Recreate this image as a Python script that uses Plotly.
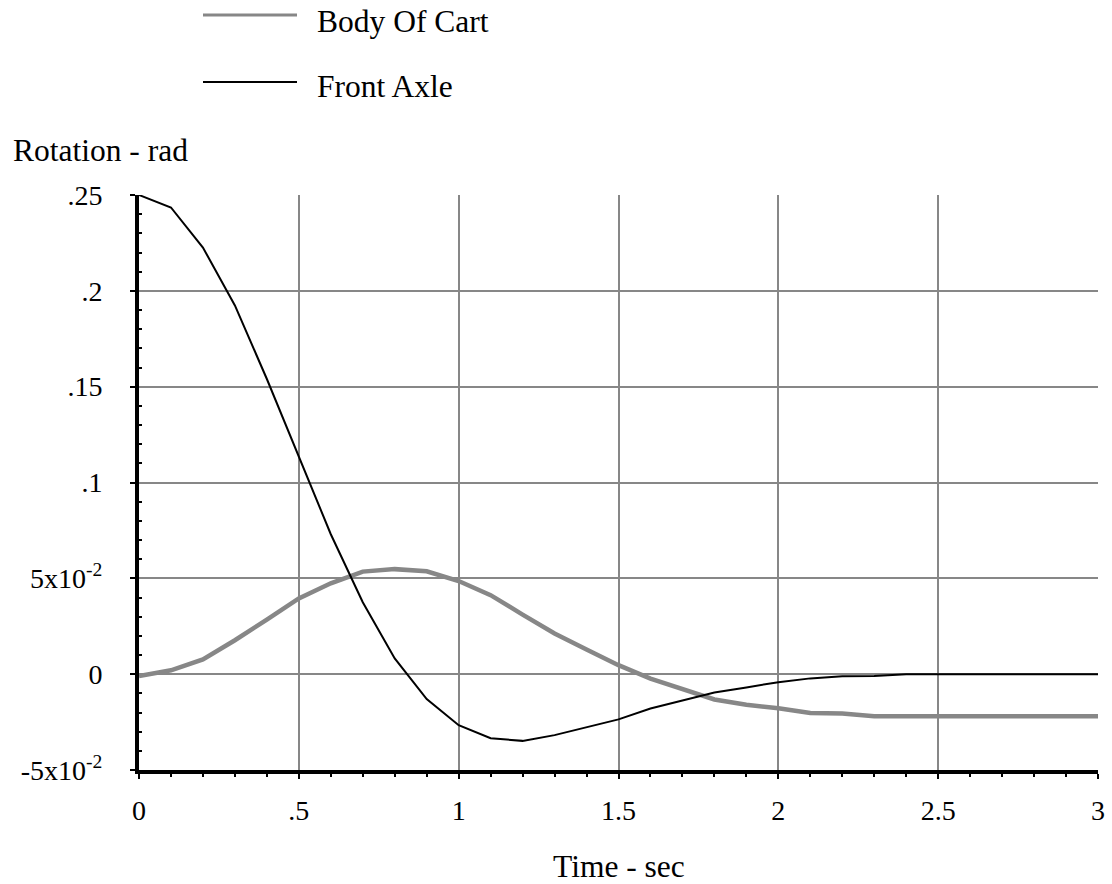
import numpy as np
import plotly.graph_objects as go

# ---- data ----
time_s = [round(0.1 * i, 1) for i in range(31)]
body_of_cart = [-0.001, 0.002, 0.0077, 0.0177, 0.0285, 0.0395, 0.0474, 0.0535, 0.0548, 0.0537,
                0.0486, 0.0412, 0.0311, 0.0212, 0.0129, 0.0047, -0.0023, -0.0078, -0.0132, -0.0160,
                -0.0178, -0.0203, -0.0205, -0.0219, -0.0219, -0.0219, -0.0219, -0.0219, -0.0219,
                -0.0219, -0.0219]
front_axle = [0.25, 0.2435, 0.2226, 0.1924, 0.1540, 0.1130, 0.0730, 0.0375, 0.0082, -0.0130,
              -0.0266, -0.0334, -0.0348, -0.0318, -0.0278, -0.0236, -0.0179, -0.0136, -0.0096,
              -0.0069, -0.0042, -0.0022, -0.0011, -0.0009, 0.0, 0.0, 0.0, 0.0, 0.0, 0.0, 0.0]

x_tickvals = [0, 0.5, 1, 1.5, 2, 2.5, 3]
x_ticktext = ["0", ".5", "1", "1.5", "2", "2.5", "3"]
y_tickvals = [-0.05, 0, 0.05, 0.1, 0.15, 0.2, 0.25]
y_ticktext = ["-5x10<sup>-2</sup>", "0", "5x10<sup>-2</sup>", ".1", ".15", ".2", ".25"]

series_names = ["Body Of Cart", "Front Axle"]
GRAY = "#878787"
FONT = "Liberation Serif, Times New Roman, serif"

fig = go.Figure()
fig.add_trace(go.Scatter(x=time_s, y=body_of_cart, mode="lines", name=series_names[0],
                         line=dict(color=GRAY, width=4.5), cliponaxis=False))
fig.add_trace(go.Scatter(x=time_s, y=front_axle, mode="lines", name=series_names[1],
                         line=dict(color="black", width=2), cliponaxis=False))

x_minor = [v for v in np.round(np.arange(0, 3.0001, 0.1), 2) if v not in x_tickvals]
y_minor = [v for v in np.round(np.arange(-0.05, 0.25001, 0.01), 3) if v not in y_tickvals]

fig.update_xaxes(range=[0, 3], tickmode="array", tickvals=x_tickvals, ticktext=x_ticktext,
                 showgrid=True, gridcolor=GRAY, gridwidth=2, zeroline=False,
                 showline=True, linecolor="black", linewidth=4, mirror=False,
                 ticks="outside", ticklen=5, tickwidth=2, tickcolor="black",
                 ticklabelstandoff=7, automargin=False,
                 minor=dict(tickmode="array", tickvals=x_minor, ticks="outside", ticklen=3,
                            tickwidth=2, tickcolor="black", showgrid=False),
                 tickfont=dict(family=FONT, size=28, color="black"))
fig.update_yaxes(range=[-0.05, 0.25], tickmode="array", tickvals=y_tickvals, ticktext=y_ticktext,
                 showgrid=True, gridcolor=GRAY, gridwidth=2, zeroline=False,
                 showline=True, linecolor="black", linewidth=4, mirror=False,
                 ticks="outside", ticklen=5, tickwidth=2, tickcolor="black",
                 ticklabelstandoff=22, automargin=False,
                 minor=dict(tickmode="array", tickvals=y_minor, ticks="inside", ticklen=3,
                            tickwidth=2, tickcolor="black", showgrid=False),
                 tickfont=dict(family=FONT, size=28, color="black"))

# plot area geometry: left 139, right 1098, top 195, bottom 770 (px)
W, H = 959.0, 575.0
def px_x(p):
    return (p - 139) / W
def px_y(p):
    return (770 - p) / H

shapes = [
    dict(type="line", xref="paper", yref="paper", x0=px_x(203), x1=px_x(297),
         y0=px_y(15), y1=px_y(15), line=dict(color=GRAY, width=3)),
    dict(type="line", xref="paper", yref="paper", x0=px_x(203), x1=px_x(297),
         y0=px_y(82), y1=px_y(82), line=dict(color="black", width=2)),
]
annotations = [
    dict(text=series_names[0], xref="paper", yref="paper", x=px_x(315), y=px_y(21),
         xanchor="left", yanchor="middle", showarrow=False,
         font=dict(family=FONT, size=31.5, color="black")),
    dict(text=series_names[1], xref="paper", yref="paper", x=px_x(315), y=px_y(87),
         xanchor="left", yanchor="middle", showarrow=False,
         font=dict(family=FONT, size=31.5, color="black")),
    dict(text="Rotation - rad", xref="paper", yref="paper", x=px_x(11), y=px_y(150),
         xanchor="left", yanchor="middle", showarrow=False,
         font=dict(family=FONT, size=31.5, color="black")),
    dict(text="Time - sec", xref="paper", yref="paper", x=0.5, y=px_y(866),
         xanchor="center", yanchor="middle", showarrow=False,
         font=dict(family=FONT, size=31.5, color="black")),
]

fig.update_layout(width=1112, height=884, margin=dict(l=139, r=14, t=195, b=114),
                  paper_bgcolor="white", plot_bgcolor="white", showlegend=False,
                  shapes=shapes, annotations=annotations,
                  font=dict(family=FONT, color="black"))

fig.write_html("out.html", config={"displayModeBar": False},
               post_script="document.body.style.margin='0';document.body.style.padding='0';"
                           "document.body.style.overflow='hidden';"
                           "document.documentElement.style.overflow='hidden';")
